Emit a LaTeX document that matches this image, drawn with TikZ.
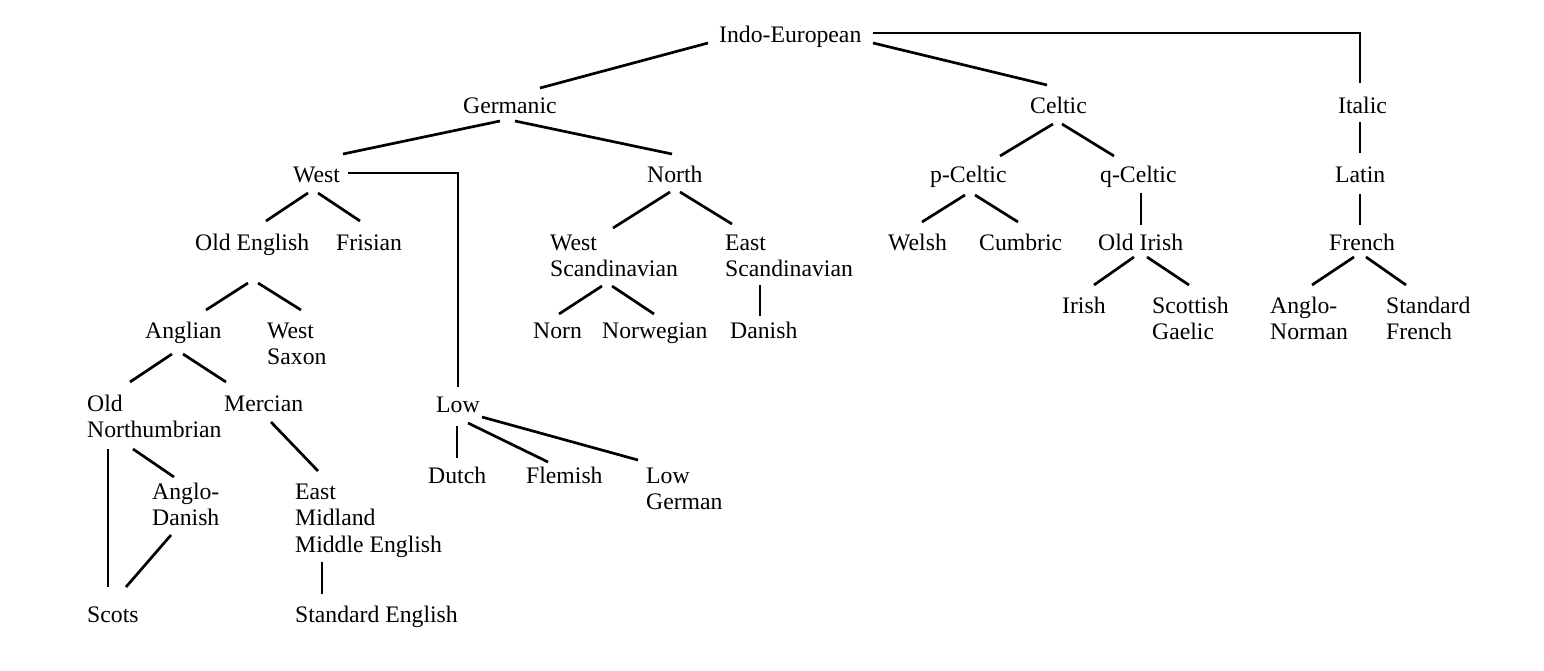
\documentclass[tikz,border=0pt]{standalone}
\usepackage{fontspec}
\setmainfont{Liberation Serif}
\begin{document}
\begin{tikzpicture}[x=1pt,y=-1pt,
  lang/.style={anchor=base west,inner sep=0pt,align=left,
    font=\fontsize{23.7}{26.5}\selectfont},
  link/.style={line width=2.7pt}]
\useasboundingbox (0,0) rectangle (1544,670);
% Nivel 1 y 2
\node[lang] (ie) at (719,42) {Indo-European};
\node[lang] (germ) at (463,113) {Germanic};
\node[lang] (celt) at (1030,113) {Celtic};
\node[lang] (ital) at (1338,113) {Italic};
% Nivel 3
\node[lang] (west) at (293,182) {West};
\node[lang] (north) at (647,182) {North};
\node[lang] (pcelt) at (930,182) {p-Celtic};
\node[lang] (qcelt) at (1100,182) {q-Celtic};
\node[lang] (latin) at (1335,182) {Latin};
% Nivel 4 (los de dos lineas van por la ultima linea)
\node[lang] (oldeng) at (195,250) {Old English};
\node[lang] (fris) at (336,250) {Frisian};
\node[lang] (wscand) at (550,276.5) {West\\Scandinavian};
\node[lang] (escand) at (725,276.5) {East\\Scandinavian};
\node[lang] (welsh) at (888,250) {Welsh};
\node[lang] (cumb) at (979,250) {Cumbric};
\node[lang] (oldir) at (1098,250) {Old Irish};
\node[lang] (french) at (1329,250) {French};
% Nivel 5
\node[lang] (irish) at (1062,313) {Irish};
\node[lang] (scgael) at (1152,339.5) {Scottish\\Gaelic};
\node[lang] (anorm) at (1270,339.5) {Anglo-\\Norman};
\node[lang] (stfr) at (1386,339.5) {Standard\\French};
\node[lang] (angl) at (145,338) {Anglian};
\node[lang] (wsax) at (267,364.5) {West\\Saxon};
\node[lang] (norn) at (533,338) {Norn};
\node[lang] (norw) at (602,338) {Norwegian};
\node[lang] (dan) at (730,338) {Danish};
% Nivel 6 y siguientes
\node[lang] (oldnorth) at (87,437.5) {Old\\Northumbrian};
\node[lang] (merc) at (224,411) {Mercian};
\node[lang] (low) at (436,412) {Low};
\node[lang] (dutch) at (428,483) {Dutch};
\node[lang] (flem) at (526,483) {Flemish};
\node[lang] (lowger) at (646,509.5) {Low\\German};
\node[lang] (adan) at (152,525.5) {Anglo-\\Danish};
\node[lang] (emid) at (295,552) {East\\Midland\\Middle English};
\node[lang] (scots) at (87,622) {Scots};
\node[lang] (stdeng) at (295,622) {Standard English};
% Ramas
\draw[link] ([shift={(-11,1)}]ie.base west) -- ([shift={(77,-25)}]germ.base west);
\draw[link] ([shift={(154,1)}]ie.base west) -- ([shift={(17,-28)}]celt.base west);
\draw[link] ([shift={(154,-9)}]ie.base west) -| ([shift={(22,-30)}]ital.base west);
\draw[link] ([shift={(37,8)}]germ.base west) -- ([shift={(50,-28)}]west.base west);
\draw[link] ([shift={(52,8)}]germ.base west) -- ([shift={(25,-28)}]north.base west);
\draw[link] ([shift={(55,-9)}]west.base west) -| ([shift={(22,-25)}]low.base west);
\draw[link] ([shift={(15,11)}]west.base west) -- ([shift={(71,-29)}]oldeng.base west);
\draw[link] ([shift={(25,11)}]west.base west) -- ([shift={(24,-29)}]fris.base west);
\draw[link] ([shift={(53,33)}]oldeng.base west) -- ([shift={(61,-28)}]angl.base west);
\draw[link] ([shift={(63,33)}]oldeng.base west) -- ([shift={(34,-54.5)}]wsax.base west);
\draw[link] ([shift={(27,16)}]angl.base west) -- ([shift={(43,-55.5)}]oldnorth.base west);
\draw[link] ([shift={(38,16)}]angl.base west) -- ([shift={(2,-29)}]merc.base west);
\draw[link] ([shift={(21,11.5)}]oldnorth.base west) -- ([shift={(21,-35)}]scots.base west);
\draw[link] ([shift={(46,11.5)}]oldnorth.base west) -- ([shift={(22,-48.5)}]adan.base west);
\draw[link] ([shift={(19,9.5)}]adan.base west) -- ([shift={(39,-35)}]scots.base west);
\draw[link] ([shift={(47,11)}]merc.base west) -- ([shift={(23,-81)}]emid.base west);
\draw[link] ([shift={(27,10)}]emid.base west) -- ([shift={(27,-28)}]stdeng.base west);
\draw[link] ([shift={(23,10)}]north.base west) -- ([shift={(63,-48.5)}]wscand.base west);
\draw[link] ([shift={(33,10)}]north.base west) -- ([shift={(7,-52.5)}]escand.base west);
\draw[link] ([shift={(52,9.5)}]wscand.base west) -- ([shift={(26,-24)}]norn.base west);
\draw[link] ([shift={(62,9.5)}]wscand.base west) -- ([shift={(52,-24)}]norw.base west);
\draw[link] ([shift={(35,8.5)}]escand.base west) -- ([shift={(30,-22)}]dan.base west);
\draw[link] ([shift={(21,14)}]low.base west) -- ([shift={(29,-25)}]dutch.base west);
\draw[link] ([shift={(32,11)}]low.base west) -- ([shift={(22,-21)}]flem.base west);
\draw[link] ([shift={(46,5)}]low.base west) -- ([shift={(-8,-49.5)}]lowger.base west);
\draw[link] ([shift={(23,11)}]celt.base west) -- ([shift={(70,-26)}]pcelt.base west);
\draw[link] ([shift={(32,11)}]celt.base west) -- ([shift={(14,-26)}]qcelt.base west);
\draw[link] ([shift={(22,9)}]ital.base west) -- ([shift={(25,-29)}]latin.base west);
\draw[link] ([shift={(35,13)}]pcelt.base west) -- ([shift={(34,-28)}]welsh.base west);
\draw[link] ([shift={(45,13)}]pcelt.base west) -- ([shift={(39,-28)}]cumb.base west);
\draw[link] ([shift={(41,11)}]qcelt.base west) -- ([shift={(43,-25)}]oldir.base west);
\draw[link] ([shift={(25,12)}]latin.base west) -- ([shift={(31,-25)}]french.base west);
\draw[link] ([shift={(36,7)}]oldir.base west) -- ([shift={(32,-28)}]irish.base west);
\draw[link] ([shift={(49,7)}]oldir.base west) -- ([shift={(37,-54.5)}]scgael.base west);
\draw[link] ([shift={(25,7)}]french.base west) -- ([shift={(42,-54.5)}]anorm.base west);
\draw[link] ([shift={(37,7)}]french.base west) -- ([shift={(20,-54.5)}]stfr.base west);
\end{tikzpicture}
\end{document}
